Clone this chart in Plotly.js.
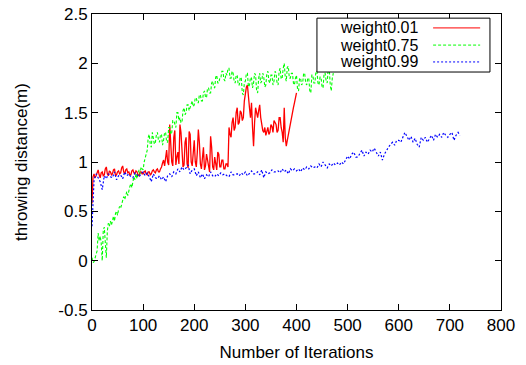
<!DOCTYPE html>
<html>
<head>
<meta charset="utf-8">
<script src="https://cdn.plot.ly/plotly-3.0.1.min.js"></script>
<style>
html,body{margin:0;padding:0;background:#fff;}
#chart{width:526px;height:365px;}
</style>
</head>
<body>
<div id="chart"></div>
<script>
// Series names
const seriesNames = ["weight0.01", "weight0.75", "weight0.99"];

// weight0.01 : iterations 0..400, every 2 iterations
const w001Start = 0, w001Step = 2;
const w001 = [
  0.58, 0.85, 0.88, 0.84, 0.86, 0.90, 0.92, 0.87, 0.84, 0.89,
  0.90, 0.86, 0.87, 0.93, 0.95, 0.88, 0.86, 0.91, 0.90, 0.87,
  0.88, 0.92, 0.93, 0.86, 0.87, 0.90, 0.91, 0.88, 0.89, 0.94,
  0.96, 0.90, 0.88, 0.92, 0.93, 0.89, 0.90, 0.87, 0.87, 0.91,
  0.92, 0.89, 0.88, 0.91, 0.90, 0.87, 0.86, 0.90, 0.90, 0.88,
  0.88, 0.90, 0.91, 0.88, 0.87, 0.90, 0.90, 0.87, 0.88, 0.91,
  0.92, 0.90, 0.89, 0.92, 0.93, 0.90, 0.90, 0.93, 0.95, 0.99,
  1.02, 0.96, 1.08, 1.12, 1.00, 0.97, 1.38, 1.10, 1.00, 0.96,
  1.25, 1.32, 0.97, 1.05, 1.10, 0.98, 1.38, 1.30, 1.05, 0.95,
  0.97, 1.20, 1.25, 0.98, 0.94, 1.31, 1.28, 1.00, 0.96, 1.15,
  1.22, 1.00, 0.95, 1.10, 1.33, 1.20, 0.98, 0.93, 1.10, 1.15,
  0.92, 0.96, 1.08, 1.02, 0.95, 0.90, 1.26, 1.15, 0.95, 0.92,
  1.05, 0.98, 0.92, 1.10, 1.08, 0.95, 0.95, 1.02, 1.02, 0.93,
  0.93, 0.98, 0.98, 0.95, 1.35, 1.28, 1.25, 1.40, 1.45, 1.32,
  1.35, 1.50, 1.55, 1.38, 1.40, 1.52, 1.50, 1.42, 1.45, 1.62,
  1.70, 1.76, 1.78, 1.60, 1.55, 1.45, 1.60, 1.35, 1.16, 1.40,
  1.55, 1.50, 1.45, 1.52, 1.58, 1.45, 1.38, 1.32, 1.30, 1.35,
  1.27, 1.30, 1.35, 1.28, 1.30, 1.38, 1.36, 1.30, 1.42, 1.40,
  1.38, 1.30, 1.32, 1.45, 1.45, 1.35, 1.30, 1.20, 1.55, 1.25,
  1.16, 1.22, 1.28, 1.35, 1.40, 1.45, 1.50, 1.55, 1.60, 1.65,
  1.70
];

// weight0.75 : iterations 0..472, every 2 iterations
const w075Start = 0, w075Step = 2;
const w075 = [
  0.03, -0.02, -0.01, 0.02, 0.06, 0.10, 0.28, 0.20, 0.25, 0.18,
  0.00, 0.30, 0.34, 0.22, 0.03, 0.30, 0.38, 0.35, 0.40, 0.36,
  0.42, 0.45, 0.40, 0.48, 0.50, 0.46, 0.52, 0.55, 0.53, 0.57,
  0.60, 0.65, 0.62, 0.68, 0.70, 0.66, 0.72, 0.75, 0.78, 0.74,
  0.80, 0.85, 0.82, 0.88, 0.83, 0.90, 0.92, 0.88, 0.95, 0.93,
  0.92, 1.00, 1.05, 1.10, 1.12, 1.25, 1.28, 1.18, 1.15, 1.30,
  1.25, 1.18, 1.20, 1.28, 1.30, 1.22, 1.20, 1.28, 1.28, 1.17,
  1.22, 1.30, 1.30, 1.20, 1.20, 1.35, 1.35, 1.28, 1.30, 1.42,
  1.42, 1.38, 1.35, 1.50, 1.50, 1.42, 1.45, 1.40, 1.40, 1.52,
  1.55, 1.48, 1.50, 1.58, 1.58, 1.52, 1.55, 1.60, 1.62, 1.56,
  1.58, 1.65, 1.65, 1.60, 1.60, 1.68, 1.68, 1.62, 1.62, 1.70,
  1.72, 1.66, 1.65, 1.75, 1.75, 1.70, 1.70, 1.80, 1.82, 1.76,
  1.75, 1.86, 1.88, 1.80, 1.80, 1.85, 1.85, 1.92, 1.92, 1.84,
  1.82, 1.90, 1.88, 1.95, 1.95, 1.85, 1.85, 1.92, 1.90, 1.82,
  1.80, 1.88, 1.88, 1.78, 1.78, 1.86, 1.85, 1.70, 1.68, 1.80,
  1.82, 1.90, 1.90, 1.76, 1.78, 1.86, 1.85, 1.75, 1.80, 1.90,
  1.88, 1.72, 1.70, 1.85, 1.90, 1.80, 1.82, 1.90, 1.86, 1.76,
  1.78, 1.90, 1.92, 1.82, 1.80, 1.88, 1.88, 1.78, 1.82, 1.92,
  1.90, 1.80, 1.78, 1.92, 1.95, 1.84, 1.85, 1.95, 2.00, 1.86,
  1.82, 1.96, 1.97, 1.85, 1.85, 1.90, 1.90, 1.80, 1.78, 1.85,
  1.88, 1.74, 1.72, 1.85, 1.85, 1.78, 1.80, 1.90, 1.90, 1.80,
  1.78, 1.85, 1.85, 1.72, 1.70, 1.88, 1.88, 1.80, 1.80, 1.92,
  1.92, 1.80, 1.78, 1.86, 1.86, 1.76, 1.75, 1.90, 1.90, 1.82,
  1.80, 1.95, 1.95, 1.78, 1.72, 1.85, 1.90
];

// weight0.99 : iterations 0..720, every 4 iterations
const w099Start = 0, w099Step = 4;
const w099 = [
  0.35, 0.82, 0.88, 0.84, 0.80, 0.72, 0.86, 0.83, 0.88, 0.85,
  0.84, 0.90, 0.82, 0.86, 0.87, 0.83, 0.90, 0.86, 0.88, 0.85,
  0.84, 0.89, 0.87, 0.85, 0.88, 0.90, 0.86, 0.89, 0.85, 0.80,
  0.88, 0.84, 0.83, 0.86, 0.82, 0.85, 0.80, 0.86, 0.88, 0.85,
  0.90, 0.88, 0.93, 0.90, 0.95, 0.92, 0.94, 0.97, 0.88, 0.92,
  0.93, 0.86, 0.90, 0.84, 0.88, 0.83, 0.87, 0.85, 0.90, 0.86,
  0.85, 0.88, 0.86, 0.89, 0.87, 0.88, 0.86, 0.85, 0.90, 0.87,
  0.87, 0.88, 0.86, 0.89, 0.87, 0.90, 0.86, 0.88, 0.91, 0.88,
  0.88, 0.90, 0.87, 0.92, 0.84, 0.90, 0.88, 0.89, 0.92, 0.90,
  0.90, 0.91, 0.89, 0.93, 0.90, 0.92, 0.88, 0.93, 0.91, 0.93,
  0.91, 0.93, 0.90, 0.94, 0.92, 0.95, 0.93, 0.96, 0.94, 0.95,
  0.94, 0.98, 0.95, 1.00, 0.97, 0.94, 0.98, 0.96, 0.99, 0.97,
  0.99, 0.97, 1.00, 0.98, 1.02, 1.06, 1.03, 1.08, 1.10, 1.05,
  1.05, 1.08, 1.12, 1.06, 1.10, 1.08, 1.12, 1.10, 1.14, 1.10,
  1.06, 1.10, 1.02, 1.08, 1.12, 1.15, 1.18, 1.20, 1.17, 1.22,
  1.22, 1.20, 1.25, 1.30, 1.26, 1.22, 1.26, 1.20, 1.24, 1.18,
  1.15, 1.25, 1.22, 1.25, 1.20, 1.24, 1.27, 1.22, 1.28, 1.25,
  1.28, 1.25, 1.30, 1.27, 1.25, 1.28, 1.30, 1.22, 1.27, 1.30,
  1.27
];

// Axis ticks
const xTickVals = [0, 100, 200, 300, 400, 500, 600, 700, 800];
const yTickVals = [-0.5, 0, 0.5, 1, 1.5, 2, 2.5];
const yTickText = ["-0.5", "0", "0.5", "1", "1.5", "2", "2.5"];

const colors = ["#ff0000", "#00ff00", "#0000ff"];
const dashes = ["solid", "3px,2px", "2px,2px"];
const widths = [1.3, 1.1, 1.2];
const FONT = "Liberation Sans, Arial, Helvetica, sans-serif";

const traces = [
  {y: w001, x0: w001Start, dx: w001Step},
  {y: w075, x0: w075Start, dx: w075Step},
  {y: w099, x0: w099Start, dx: w099Step}
].map((t, i) => ({
  type: "scatter", mode: "lines",
  name: seriesNames[i],
  y: t.y, x0: t.x0, dx: t.dx,
  line: {color: colors[i], width: widths[i], dash: dashes[i]},
  showlegend: false, hoverinfo: "skip"
}));

// Custom gnuplot-style key (text right-aligned, sample on the right)
const keyRowsY = [0.953, 0.895, 0.838];
const shapes = [{
  type: "rect", xref: "paper", yref: "paper",
  x0: 0.550, x1: 0.973, y0: 0.804, y1: 0.986,
  line: {color: "#000", width: 1}, fillcolor: "rgba(255,255,255,1)", layer: "above"
}];
const annotations = [];
seriesNames.forEach((n, i) => {
  shapes.push({
    type: "line", xref: "paper", yref: "paper",
    x0: 0.834, x1: 0.949, y0: keyRowsY[i], y1: keyRowsY[i],
    line: {color: colors[i], width: 1, dash: dashes[i]}, layer: "above"
  });
  annotations.push({
    xref: "paper", yref: "paper", x: 0.802, y: keyRowsY[i],
    xanchor: "right", yanchor: "middle", showarrow: false,
    text: n, font: {family: FONT, size: 16, color: "#000"}
  });
});

const layout = {
  width: 526, height: 365,
  margin: {l: 92, r: 25, t: 14, b: 55, pad: 0},
  paper_bgcolor: "#fff", plot_bgcolor: "#fff",
  font: {family: FONT, size: 17, color: "#000"},
  showlegend: false,
  xaxis: {
    range: [0, 800], tickvals: xTickVals,
    ticks: "inside", ticklen: 6, tickcolor: "#000", mirror: "ticks",
    showline: true, linecolor: "#000", linewidth: 1,
    showgrid: false, zeroline: false,
    title: {text: "Number of Iterations", font: {family: FONT, size: 17}, standoff: 11},
    tickfont: {family: FONT, size: 17}
  },
  yaxis: {
    range: [-0.5, 2.5], tickvals: yTickVals, ticktext: yTickText,
    ticks: "inside", ticklen: 6, tickcolor: "#000", mirror: "ticks",
    showline: true, linecolor: "#000", linewidth: 1,
    showgrid: false, zeroline: false,
    title: {text: "throwing distance(m)", font: {family: FONT, size: 17}, standoff: 26},
    tickfont: {family: FONT, size: 17}
  },
  shapes: shapes,
  annotations: annotations
};

Plotly.newPlot("chart", traces, layout, {staticPlot: true, displayModeBar: false});
</script>
</body>
</html>
